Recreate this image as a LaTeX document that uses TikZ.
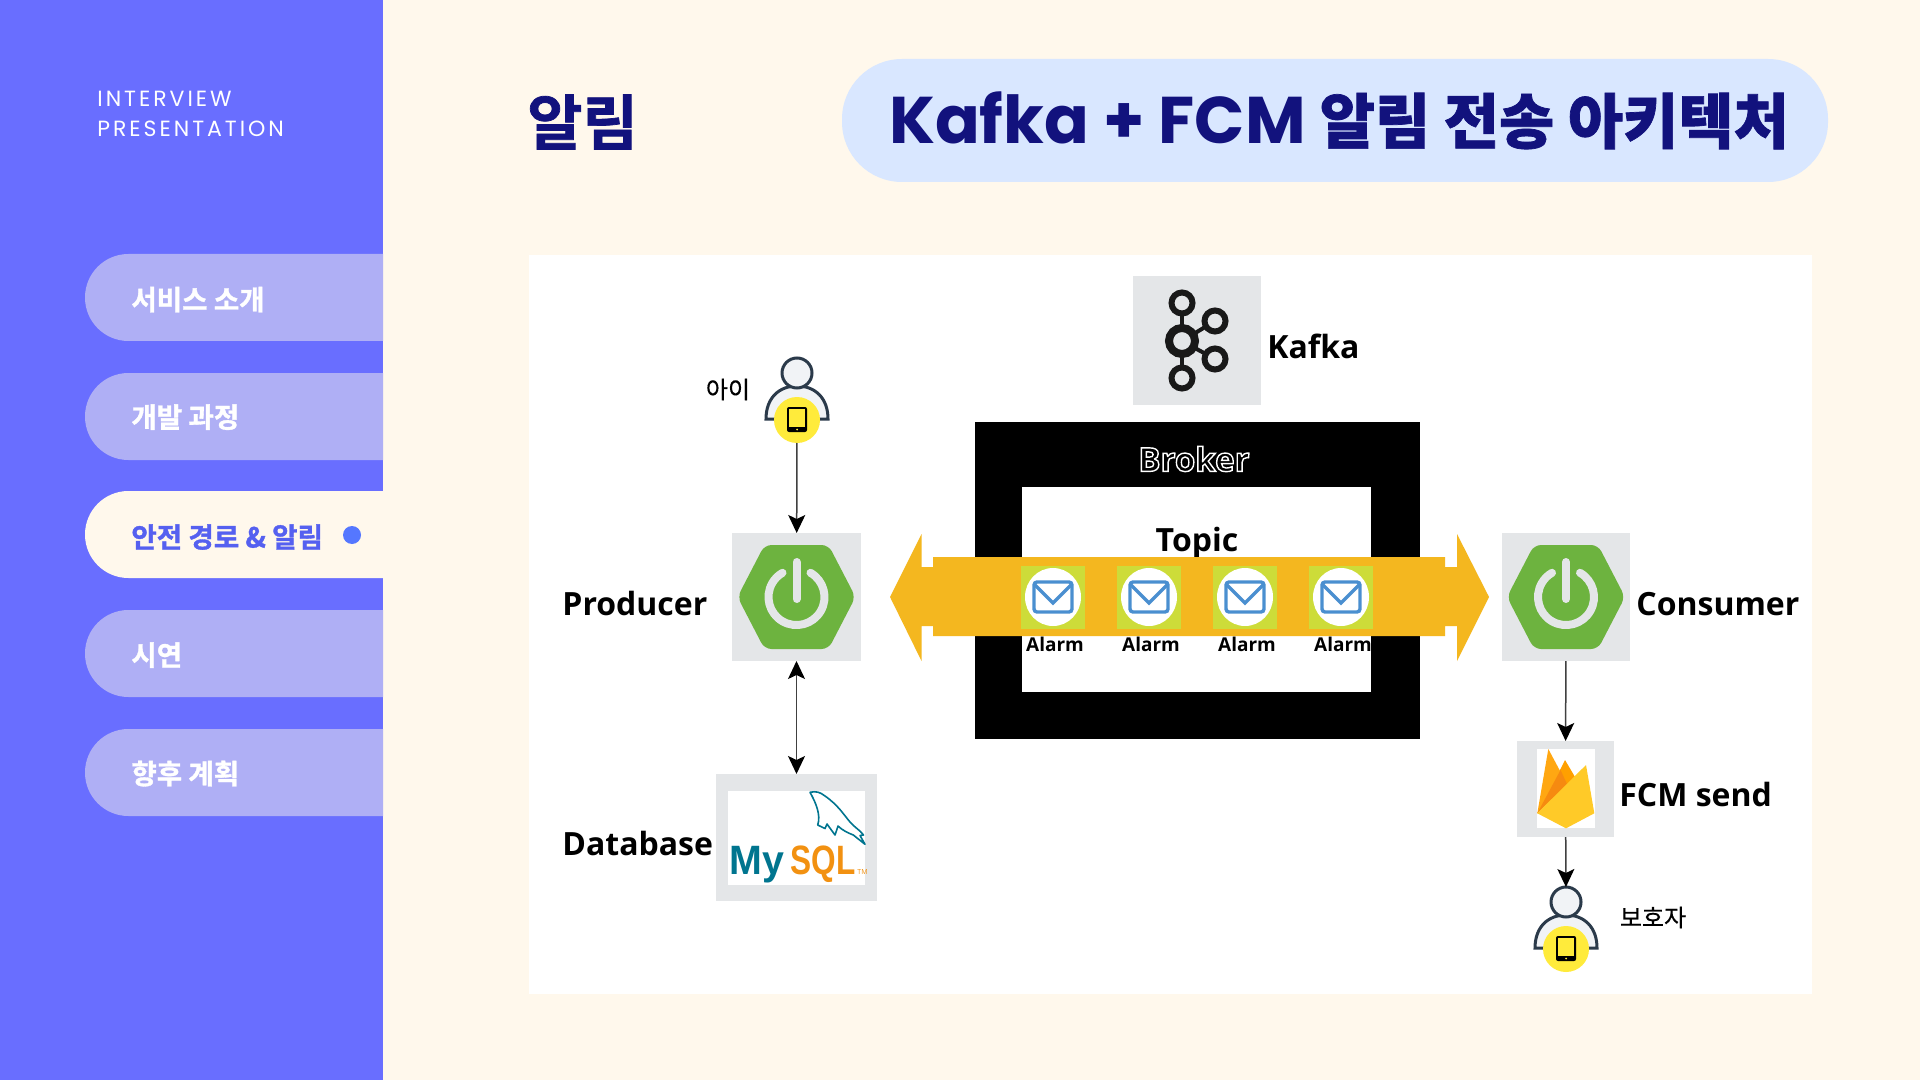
\documentclass[tikz,border=0pt]{standalone}
\usepackage{fontspec}
\usepackage{tikz}
\usetikzlibrary{arrows.meta,positioning,calc}
\setmainfont{Open Sans}
\newfontfamily\krfont{Noto Sans CJK KR}
\newfontfamily\krheavy[FakeBold=1.2]{Noto Sans CJK KR Bold}
\newfontfamily\krsoft[FakeBold=0.4]{Noto Sans CJK KR}
\newfontfamily\popfont{Poppins}
\newfontfamily\sidefont[LetterSpace=13.5]{Poppins}
\newfontfamily\sqlfont{Liberation Sans}
\newcommand{\sizept}[1]{\fontsize{#1}{#1}\selectfont}
\definecolor{creambg}{HTML}{FFF8EC}
\definecolor{sidebarblue}{HTML}{696EFF}
\definecolor{navlilac}{HTML}{AFAFF5}
\definecolor{navtext}{HTML}{5560F0}
\definecolor{navdot}{HTML}{5577FF}
\definecolor{titlepale}{HTML}{D9E7FF}
\definecolor{titlenavy}{HTML}{12127D}
\definecolor{iconbg}{HTML}{E4E6E8}
\definecolor{springgreen}{HTML}{6DB33F}
\definecolor{bandorange}{HTML}{F4B71F}
\definecolor{alarmlime}{HTML}{CDDC39}
\definecolor{envblue}{HTML}{4A8FD0}
\definecolor{phoneyellow}{HTML}{FFEB3B}
\definecolor{personink}{HTML}{2B3A4A}
\definecolor{personfill}{HTML}{F1F3F6}
\definecolor{sqlteal}{HTML}{00758F}
\definecolor{sqlorange}{HTML}{F29111}
\definecolor{fireleft}{HTML}{FFA712}
\definecolor{firemid}{HTML}{FFA000}
\definecolor{firedark}{HTML}{F68A10}
\definecolor{firefront}{HTML}{FFCA28}
\tikzset{
  navlabel/.style={anchor=base west,inner sep=0pt,text=white,font=\krheavy\sizept{13.8}},
  iconbox/.style={fill=iconbg,inner sep=0pt,outer sep=0pt},
  archlabel/.style={anchor=base west,inner sep=0pt,font=\bfseries\sizept{16}},
  krlabel/.style={inner sep=0pt,font=\krsoft\sizept{12}},
  alarmlabel/.style={anchor=base,inner sep=0pt,font=\bfseries\sizept{9.5}},
  sqllabel/.style={anchor=base west,inner sep=0pt,font=\sqlfont\bfseries\sizept{20.5}},
  flowarrow/.style={black!75,line width=0.75pt,-{Stealth[length=9pt,width=8.5pt,inset=2pt,color=black]}},
  flowboth/.style={black!75,line width=0.75pt,{Stealth[length=9pt,width=8.5pt,inset=2pt,color=black]}-{Stealth[length=9pt,width=8.5pt,inset=2pt,color=black]}},
}
% spring hexagon with power button
\newcommand{\springicon}[2]{%
  \begin{scope}[shift={(#1,#2)}]
    \fill[springgreen,rounded corners=3.5pt] (-59,0) -- (-32,-52) -- (32,-52) -- (59,0) -- (32,52) -- (-32,52) -- cycle;
    \draw[iconbg,line width=4pt,line cap=round] (14,-24.2) arc (-60:240:28);
    \draw[iconbg,line width=4pt,line cap=round] (0,-35) -- (0,2);
  \end{scope}}
% person with yellow phone badge
\newcommand{\personicon}[3]{%
  \begin{scope}[shift={(#2,#3)}]
    \filldraw[personfill,draw=personink,line width=1.5pt] (-31,46) .. controls (-31,25) and (-18,13) .. (0,13)
      .. controls (18,13) and (31,25) .. (31,46) -- cycle;
    \node[circle,fill=personfill,draw=personink,line width=1.5pt,minimum size=15pt,inner sep=0pt,outer sep=0pt] (#1head) at (0,0) {};
    \node[circle,fill=phoneyellow,minimum size=23pt,inner sep=0pt,outer sep=0pt] (#1phone) at (0,47) {};
    \fill[black,rounded corners=1pt] (-10,34) rectangle (10,59);
    \fill[phoneyellow] (-8,36) rectangle (8,54);
    \fill[phoneyellow] (0,56.5) circle (1);
  \end{scope}}
% mail badge of one alarm
\newcommand{\alarmicon}[1]{%
  \begin{scope}[shift={(#1,597)}]
    \fill[alarmlime] (-32,-31) rectangle (32,32);
    \fill[white] (0,0) ellipse (28 and 29);
    \draw[envblue,line width=1.7pt,rounded corners=1.5pt] (-19,-15) rectangle (19,15);
    \draw[envblue,line width=1.7pt] (-19,-13) -- (0,6) -- (19,-13);
  \end{scope}}

\begin{document}
\begin{tikzpicture}[x=0.5pt,y=-0.5pt]
  \useasboundingbox (0,0) rectangle (1920,1080);
  % --- Background ---
  \fill[creambg] (0,0) rectangle (1920,1080);
  \fill[sidebarblue] (0,0) rectangle (383,1080);
  \node[anchor=base west,inner sep=0pt,text=white,font=\sidefont\sizept{11}] (sideone) at (97,106.5) {INTERVIEW};
  \node[anchor=base west,inner sep=0pt,text=white,font=\sidefont\sizept{11}] (sidetwo) at (97,136.5) {PRESENTATION};

  % --- Navigation ---
  \foreach \ny in {254,373,610,729}
    \fill[navlilac] (383,\ny) [rounded corners=21.7pt] -- (85,\ny) -- (85,\ny+87) [sharp corners] -- (383,\ny+87) -- cycle;
  \fill[creambg] (383,491) [rounded corners=21.7pt] -- (85,491) -- (85,578) [sharp corners] -- (383,578) -- cycle;
  \node[navlabel] (navone) at (131,310) {서비스 소개};
  \node[navlabel] (navtwo) at (131,427.5) {개발 과정};
  \node[navlabel,text=navtext] (navthree) at (131,547.5) {안전 경로 \& 알림};
  \node[navlabel] (navfour) at (131,665.5) {시연};
  \node[navlabel] (navfive) at (131,784) {향후 계획};
  \fill[navdot] (352,535) circle (9);

  % --- Title ---
  \node[anchor=west,inner sep=0pt,text=titlenavy,font=\krheavy\sizept{30}] (pagehead) at (527,122) {알림};
  \node[fill=titlepale,rounded corners=30pt,minimum width=493pt,minimum height=61.5pt,inner sep=0pt,
        text=titlenavy] (titlepill) at (1335,120.5)
        {\hspace*{4pt}\popfont\bfseries\sizept{33}Kafka + FCM \krheavy\sizept{30}알림 전송 아키텍처};

  % --- Panel ---
  \fill[white] (529,255) rectangle (1812,994);

  % --- Broker ---
  \node[iconbox,minimum width=64pt,minimum height=64.5pt] (kafkabox) at (1197,340.5) {};
  \draw[black!90,line width=2pt] (1182,303) -- (1182,378);
  \draw[black!90,line width=2pt] (1182,341) -- (1215,321);
  \draw[black!90,line width=2pt] (1182,341) -- (1215,359);
  \foreach \kx/\ky in {1182/303,1182/378,1215/321,1215/359}
    \filldraw[fill=iconbg,draw=black!90,line width=3pt] (\kx,\ky) circle (10.5);
  \filldraw[fill=iconbg,draw=black!90,line width=4pt] (1182,341) circle (13);
  \node[archlabel] (kafkalabel) at (1267,358) {Kafka};

  \node[fill=black,inner sep=0pt,outer sep=0pt,minimum width=222.5pt,minimum height=158.5pt] (brokerbox) at (1197.5,580.5) {};
  \node[fill=white,inner sep=0pt,outer sep=0pt,minimum width=174.5pt,minimum height=102.5pt] (topicbox) at (1196.5,589.5) {};
  \node[inner sep=0pt,font=\bfseries\sizept{16.5},text=white] (brokerlabel) at (1194,459)
    {\special{pdf:code 1 G 1 Tr 0.7 w}Broker\special{pdf:code 0 Tr}};
  \node[anchor=base,inner sep=0pt,font=\bfseries\sizept{16}] (topiclabel) at (1197,551) {Topic};

  % band through the topic
  \fill[bandorange] (890,597) -- (921.5,534) -- (921.5,567) -- (933,567) -- (933,557) -- (1445,557) -- (1445,567)
    -- (1457,567) -- (1457,534) -- (1489,597) -- (1457,661) -- (1457,626) -- (1445,626) -- (1445,636) -- (933,636)
    -- (933,626) -- (921.5,626) -- (921.5,661) -- cycle;
  \foreach \n in {0,1,2,3} {
    \alarmicon{1053+96*\n}
    \node[alarmlabel] (alarm\n) at (1055+96*\n,651) {Alarm};
  }

  % --- Producer side ---
  \node[iconbox,minimum width=64.5pt,minimum height=64pt] (producerbox) at (796.5,597) {};
  \springicon{796.5}{597}
  \node[archlabel] (producerlabel) at (562,615) {Producer};
  \personicon{child}{797}{373}
  \node[krlabel] (childlabel) at (728,389.5) {아이};
  \node[iconbox,minimum width=80.5pt,minimum height=63.5pt] (databasebox) at (796.5,837.5) {};
  \fill[white] (728,791) rectangle (865,885);
  \draw[sqlteal,line width=0.8pt,line join=round] (810,792.3) .. controls (816,791) and (820,792) .. (825,796)
    .. controls (838,805) and (844,815) .. (850,822) .. controls (854,827) and (860,830) .. (863.5,835)
    -- (860,835.5) -- (865,844.3) -- (853.3,835) .. controls (848,833) and (842,830) .. (838,826)
    -- (835,835) -- (827,824) -- (825,828.5) -- (817.7,825) .. controls (821,815) and (816,803) .. (810,792.3) -- cycle;
  \node[sqllabel,text=sqlteal] (mysqlmy) at (729,874.5) {\scalebox{0.96}[1]{My}};
  \node[sqllabel,text=sqlorange] (mysqlsql) at (790,874.5) {\scalebox{0.77}[1]{SQL}};
  \node[anchor=base west,inner sep=0pt,font=\sizept{3.5},text=sqlorange] (mysqltm) at (857,874.5) {TM};
  \node[archlabel] (databaselabel) at (562,855) {Database};

  % --- Consumer side ---
  \node[iconbox,minimum width=64pt,minimum height=64pt] (consumerbox) at (1566,597) {};
  \springicon{1566}{597}
  \node[archlabel] (consumerlabel) at (1636,615) {Consumer};
  \node[iconbox,minimum width=48.5pt,minimum height=48pt] (firebasebox) at (1565.5,789) {};
  \fill[white] (1537,749) rectangle (1595,828);
  \fill[firemid] (1537.3,813.3) -- (1561,768) -- (1565,760) -- (1575,777) -- cycle;
  \fill[fireleft] (1537.3,813.3) -- (1548.3,749) -- (1567,784) -- cycle;
  \fill[firedark] (1537.3,813.3) -- (1560.5,770) -- (1567,784) -- cycle;
  \fill[firefront] (1537.3,813.3) -- (1586,765) -- (1594.3,813.3) -- (1566,828.3) -- cycle;
  \node[archlabel] (fcmlabel) at (1619,806) {FCM send};
  \personicon{guard}{1566}{902}
  \node[krlabel] (guardlabel) at (1653,917.5) {보호자};

  % --- Arrows ---
  \draw[flowarrow] (childphone) -- (producerbox);
  \draw[flowboth] (producerbox) -- (databasebox);
  \draw[flowarrow] (consumerbox) -- (firebasebox);
  \draw[flowarrow] (firebasebox) -- (guardhead);
\end{tikzpicture}
\end{document}
